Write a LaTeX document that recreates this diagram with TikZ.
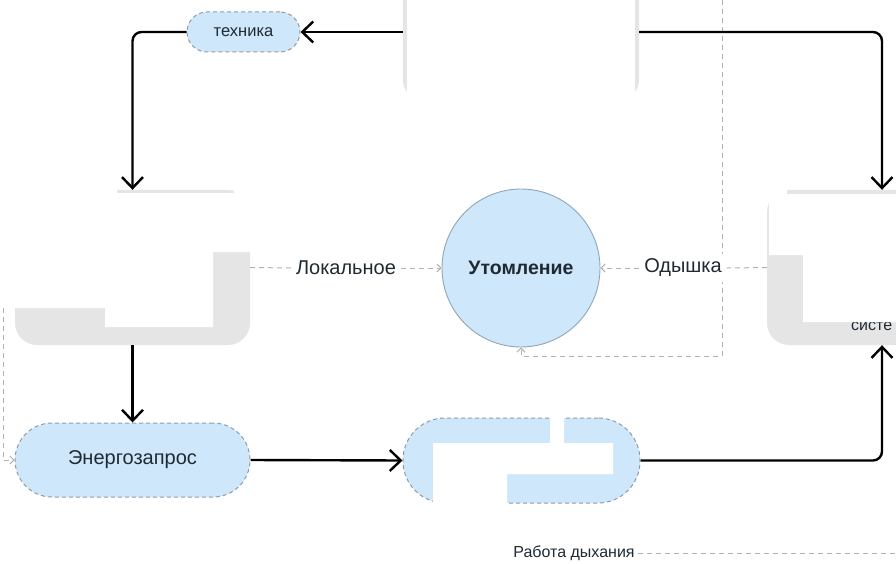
\documentclass[tikz,border=0pt]{standalone}
\usepackage{fontspec}
\setmainfont{Liberation Sans}
\usetikzlibrary{arrows.meta,calc}
\definecolor{bluefill}{HTML}{CFE7FB}
\definecolor{pillborder}{HTML}{8F9CA8}
\definecolor{circborder}{HTML}{8EA6B8}
\definecolor{grayfill}{HTML}{E5E5E5}
\definecolor{dgray}{HTML}{B2B2B2}
\definecolor{txt}{HTML}{1F2A33}
\begin{document}
\begin{tikzpicture}[x=1pt,y=-1pt,
  pill/.style={draw=pillborder, fill=bluefill, line width=1pt, dash pattern=on 4pt off 3pt,
    text=txt, inner sep=0pt, font=\fontsize{20}{24}\selectfont},
  graybox/.style={fill=grayfill, draw=none, rounded corners=22pt, inner sep=0pt},
  blank/.style={fill=white, draw=none},
  conn/.style={draw=black, line width=2.4pt, rounded corners=9pt,
    -{Straight Barb[length=11pt,width=21pt]}},
  dline/.style={draw=dgray, line width=1pt, dash pattern=on 5pt off 4pt},
  dconn/.style={dline, -{Straight Barb[length=4pt,width=8pt]}},
  lab/.style={fill=white, text=txt, inner sep=5pt, font=\fontsize{20}{24}\selectfont}]
\useasboundingbox (0,0) rectangle (896,564);
\clip (0,0) rectangle (896,564);

% gray boxes (largely blanked out in the reference)
\node[graybox, minimum width=236pt, minimum height=120pt, rounded corners=20pt] (top) at (521,40) {};
\node[graybox, minimum width=235pt, minimum height=155pt] (left) at (132.5,267.5) {};
\node[graybox, minimum width=153pt, minimum height=155pt] (right) at (843.5,267.5) {};
\node[anchor=west, text=txt, inner sep=0pt, font=\fontsize{16}{19}\selectfont] (sys) at (851,326) {систе};

% white patches
\fill[blank] (407,-30) rectangle (635,102);
\fill[blank] (5,185) -- (117,185) -- (117,193) -- (234,193) -- (234,185) -- (255,185)
  -- (255,252) -- (213,252) -- (213,327) -- (105,327) -- (105,308) -- (5,308) -- cycle;
\fill[blank] (769,185) -- (787,185) -- (787,194) -- (900,194) -- (900,322) -- (803,322)
  -- (803,255) -- (769,255) -- cycle;

% blue nodes
\node[pill, rounded corners=20pt, minimum width=113pt, minimum height=40pt,
  font=\fontsize{16.5}{19}\selectfont] (tech) at (243.5,32) {техника};
\node[pill, rounded corners=37pt, minimum width=235pt, minimum height=74pt] (ener) at (132.5,460) {Энергозапрос};
\node[pill, rounded corners=42pt, minimum width=237pt, minimum height=85pt] (bot) at (521.5,460.5) {};
\fill[blank] (433,443) -- (550,443) -- (550,415) -- (564,415) -- (564,443) -- (613,443)
  -- (613,474) -- (507,474) -- (507,506) -- (433,506) -- cycle;

\node[circle, draw=circborder, line width=0.9pt, fill=bluefill, minimum size=158pt, inner sep=0pt,
  text=txt, font=\bfseries\fontsize{19.5}{23}\selectfont] (fat) at (521,268) {Утомление};

% dashed connectors
\coordinate (vtop) at (722,0);
\coordinate (vbot) at (722,356);
\draw[dconn] (vtop) -- (vbot) -| (fat.south);
\coordinate (lt) at (3,308);
\draw[dconn] (lt) |- (ener.west);

\node[lab] (lok) at (346,268) {Локальное};
\node[lab] (ody) at (683,268) {Одышка};
\node[lab, inner sep=3pt, font=\fontsize{16}{19}\selectfont] (rab) at (574,553) {Работа дыхания};
\coordinate (rabend) at (896,553);

\draw[dline] (left.east) -- (lok.west);
\draw[dconn] (lok.east) -- (fat.west);
\draw[dline] (right.west) -- (ody.east);
\draw[dconn] (ody.west) -- (fat.east);
\draw[dline] (rab.east) -- (rabend);

% solid connectors
\draw[conn] (top.west |- tech.east) -- (tech.east);
\draw[conn] (tech.west) -| (left.north);
\draw[conn] (top.east |- tech.east) -| ([xshift=38.5pt]right.north);
\draw[conn] (left.south) -- (ener.north);
\draw[conn] (ener.east) -- (bot.west);
\draw[conn] (bot.east) -| ([xshift=38.5pt]right.south);
\end{tikzpicture}
\end{document}
